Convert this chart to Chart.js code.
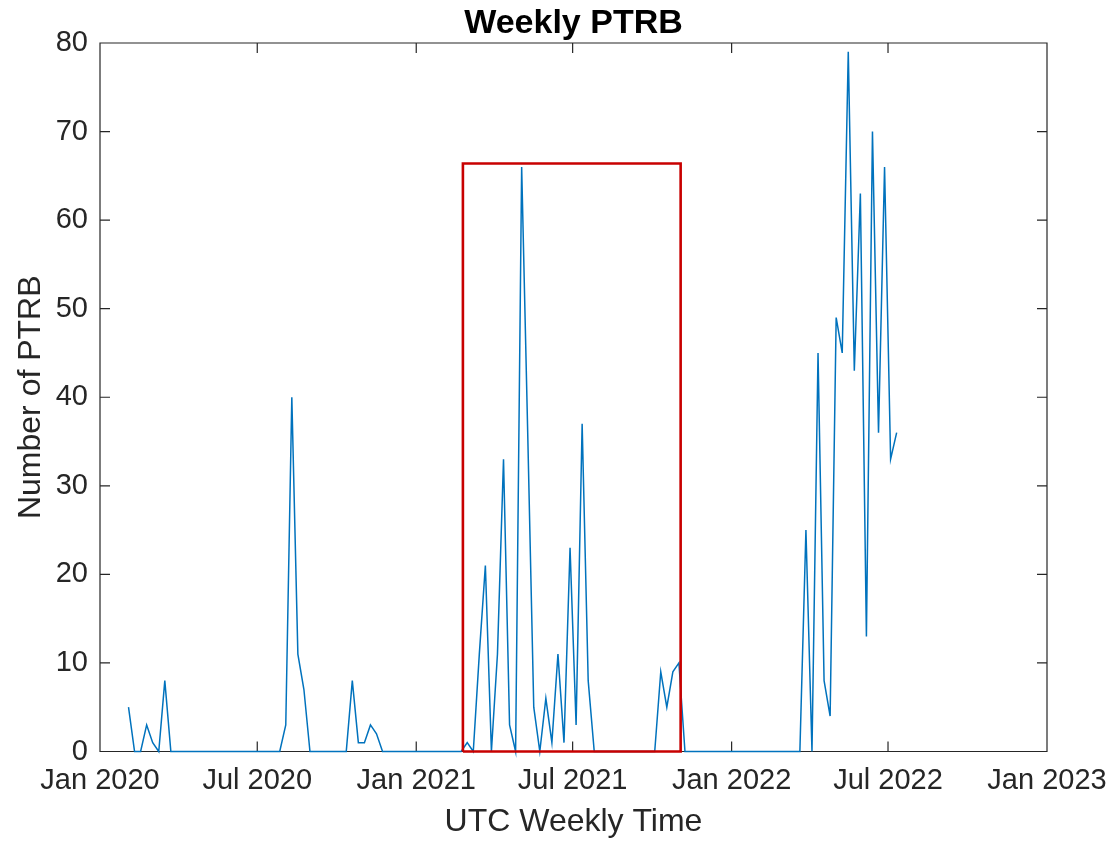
<!DOCTYPE html>
<html>
<head>
<meta charset="utf-8">
<title>Weekly PTRB</title>
<script src="https://cdn.jsdelivr.net/npm/chart.js@4.4.1/dist/chart.umd.min.js"></script>
<style>
  html, body { margin: 0; padding: 0; background: #fff; }
  #wrap { width: 1113px; height: 841px; }
</style>
</head>
<body>
<div id="wrap"><canvas id="ptrbChart" width="1113" height="841"></canvas></div>
<script>
// first Monday of the weekly series, then one count per week
const WEEK_START = '2020-02-03';
const PTRB_COUNTS = [
    5, 0, 0, 3, 1, 0, 8, 0,
    0, 0, 0, 0, 0, 0, 0, 0, 0, 0, 0, 0, 0, 0, 0, 0, 0,
    0, 3, 40, 11, 7, 0,
    0, 0, 0, 0, 0, 0,
    8, 1, 1, 3, 2, 0,
    0, 0, 0, 0, 0, 0, 0, 0, 0, 0, 0, 0, 0,
    1, 0, 11, 21, 0, 11, 33, 3, 0, 66, 36, 5,
    0, 6, 1, 11, 1, 23, 3, 37, 8, 0,
    0, 0, 0, 0, 0, 0, 0, 0, 0, 0,
    9, 5, 9, 10, 0,
    0, 0, 0, 0, 0, 0, 0, 0, 0, 0, 0, 0, 0, 0, 0, 0, 0, 0, 0,
    25, 0, 45, 8, 4, 49, 45, 79, 43, 63, 13, 70, 36, 66, 33, 36
];

// x axis: ticks every six months
const TICK_DATES = ['2020-01-01', '2020-07-01', '2021-01-01', '2021-07-01', '2022-01-01', '2022-07-01', '2023-01-01'];
const TICK_LABELS = ['Jan 2020', 'Jul 2020', 'Jan 2021', 'Jul 2021', 'Jan 2022', 'Jul 2022', 'Jan 2023'];
const Y_TICKS = [0, 10, 20, 30, 40, 50, 60, 70, 80];

// highlighted period (red frame)
const BOX_DATES = ['2021-02-24', '2021-11-03'];
const BOX_TOP = 66.4;

const DAY = 86400000;
const TICK_LEN = 10;
const INK = '#262626';
const FONT = "'Liberation Sans', Arial, Helvetica, sans-serif";

const t0 = Date.parse(WEEK_START);
const weekly = PTRB_COUNTS.map((v, i) => ({ x: t0 + i * 7 * DAY, y: v }));
const tickValues = TICK_DATES.map(d => Date.parse(d));
const b0 = Date.parse(BOX_DATES[0]);
const b1 = Date.parse(BOX_DATES[1]);
const box = [
    { x: b0, y: 0 }, { x: b0, y: BOX_TOP }, { x: b1, y: BOX_TOP },
    { x: b1, y: 0 }, { x: b0, y: 0 }
];

// axes frame + inward ticks on all four sides
const axesBox = {
    id: 'axesBox',
    beforeDatasetsDraw(chart) {
        const { ctx, chartArea: a, scales } = chart;
        const xs = scales.x, ys = scales.y;
        ctx.save();
        ctx.strokeStyle = INK;
        ctx.lineWidth = 1.2;
        ctx.beginPath();
        ctx.rect(a.left, a.top, a.right - a.left, a.bottom - a.top);
        xs.ticks.forEach(t => {
            const px = xs.getPixelForValue(t.value);
            ctx.moveTo(px, a.bottom); ctx.lineTo(px, a.bottom - TICK_LEN);
            ctx.moveTo(px, a.top); ctx.lineTo(px, a.top + TICK_LEN);
        });
        ys.ticks.forEach(t => {
            const py = ys.getPixelForValue(t.value);
            ctx.moveTo(a.left, py); ctx.lineTo(a.left + TICK_LEN, py);
            ctx.moveTo(a.right, py); ctx.lineTo(a.right - TICK_LEN, py);
        });
        ctx.stroke();
        ctx.restore();
    }
};

Chart.defaults.font.family = FONT;
Chart.defaults.color = INK;

new Chart(document.getElementById('ptrbChart'), {
    type: 'scatter',
    data: {
        datasets: [
            {
                label: 'Period',
                data: box,
                showLine: true,
                borderColor: '#C80000',
                borderWidth: 2.6,
                pointRadius: 0,
                clip: false
            },
            {
                label: 'PTRB',
                data: weekly,
                showLine: true,
                borderColor: '#0072BD',
                borderWidth: 1.5,
                pointRadius: 0,
                tension: 0,
                clip: false
            }
        ]
    },
    options: {
        responsive: false,
        animation: false,
        layout: { padding: { left: 0, right: 66, top: 0, bottom: 0 } },
        plugins: {
            legend: { display: false },
            tooltip: { enabled: false },
            title: {
                display: true,
                fullSize: false,
                text: 'Weekly PTRB',
                color: '#000',
                font: { size: 34, weight: 'bold', lineHeight: 1.1 },
                padding: { top: 5, bottom: 0.6 }
            }
        },
        scales: {
            x: {
                type: 'linear',
                min: tickValues[0],
                max: tickValues[tickValues.length - 1],
                afterBuildTicks: s => { s.ticks = tickValues.map(v => ({ value: v })); },
                afterFit: s => {
                    s.height = 89.5;
                    s.paddingLeft = 0;
                    s.paddingRight = 0;
                },
                grid: { display: false, drawTicks: false },
                border: { display: false },
                ticks: {
                    autoSkip: false,
                    maxRotation: 0,
                    padding: 12,
                    font: { size: 29 },
                    color: INK,
                    callback: v => TICK_LABELS[tickValues.indexOf(v)]
                },
                title: {
                    display: true,
                    text: 'UTC Weekly Time',
                    font: { size: 32 },
                    color: INK,
                    padding: { top: 0, bottom: 0 }
                }
            },
            y: {
                min: 0,
                max: 80,
                afterBuildTicks: s => { s.ticks = Y_TICKS.map(v => ({ value: v })); },
                afterFit: s => {
                    s.width = 100;
                    s.paddingTop = 0;
                    s.paddingBottom = 0;
                },
                grid: { display: false, drawTicks: false },
                border: { display: false },
                ticks: {
                    padding: 12,
                    font: { size: 29 },
                    color: INK
                },
                title: {
                    display: true,
                    text: 'Number of PTRB',
                    font: { size: 32 },
                    color: INK,
                    padding: { top: 12, bottom: 0 }
                }
            }
        }
    },
    plugins: [axesBox]
});
</script>
</body>
</html>
